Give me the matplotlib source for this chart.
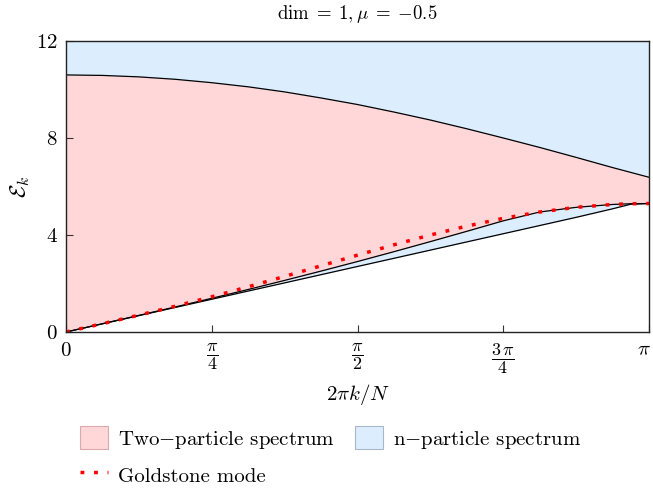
import numpy as np
import matplotlib
matplotlib.use("Agg")
import matplotlib.pyplot as plt
import matplotlib.transforms as mtransforms
from matplotlib.patches import Patch
from matplotlib.lines import Line2D

plt.rcParams['font.family'] = 'serif'
plt.rcParams['font.serif'] = ['cmr10']
plt.rcParams['mathtext.fontset'] = 'cm'
plt.rcParams['axes.formatter.use_mathtext'] = True

# momentum samples, in units of pi
k_over_pi = [0, 1/16, 2/16, 3/16, 4/16, 5/16, 6/16, 7/16, 8/16,
             9/16, 10/16, 11/16, 12/16, 13/16, 14/16, 15/16, 31/32, 1]

goldstone = [0, 0.343, 0.695, 1.064, 1.453, 1.864, 2.292, 2.730, 3.169,
             3.596, 4.000, 4.367, 4.687, 4.948, 5.141, 5.259, 5.289, 5.298]
two_lower = [0, 0.342, 0.686, 1.034, 1.390, 1.754, 2.128, 2.512, 2.906,
             3.312, 3.728, 4.152, 4.584, 4.948, 5.141, 5.259, 5.289, 5.298]
two_upper = [10.60, 10.58, 10.52, 10.42, 10.28, 10.11, 9.90, 9.65, 9.38,
             9.07, 8.74, 8.38, 8.00, 7.61, 7.20, 6.78, 6.58, 6.38]
n_lower = [0, 0.338, 0.675, 1.013, 1.351, 1.689, 2.026, 2.364, 2.702,
           3.039, 3.377, 3.715, 4.052, 4.390, 4.728, 5.080, 5.270, 5.298]
y_top = 12

xtick_vals = [0, 0.25, 0.5, 0.75, 1]
xtick_labels = [r'$0$', r'$\dfrac{\pi}{4}$', r'$\dfrac{\pi}{2}$', r'$\dfrac{3\,\pi}{4}$', r'$\pi$']
ytick_vals = [0, 4, 8, 12]

pink = '#ffd7d9'
blue = '#dcedfd'

k = np.pi * np.array(k_over_pi)

fig = plt.figure(figsize=(6.53, 4.92), dpi=100)
ax = fig.add_axes([0.1011, 0.3252, 0.8928, 0.5915])

ax.fill_between(k, n_lower, y_top, color=blue, lw=0)
ax.fill_between(k, two_lower, two_upper, color=pink, lw=0)
ax.plot(k, n_lower, color='black', lw=0.9)
ax.plot(k, two_lower, color='black', lw=0.9)
ax.plot(k, two_upper, color='black', lw=0.9)
ax.plot(k, goldstone, color='#ff0000', lw=2.5, linestyle=(0, (1.1, 2.8)))

ax.set_xlim(0, np.pi)
ax.set_ylim(0, 12)
ax.set_xticks(np.pi * np.array(xtick_vals))
ax.set_xticklabels(xtick_labels)
ax.set_yticks(ytick_vals)
ax.set_yticklabels([f'${v}$' for v in ytick_vals])
ax.tick_params(direction='in', labelsize=15, length=5, width=0.8, colors='#333333',
               labelcolor='black')
ax.tick_params(axis='x', pad=7, labelsize=13)
ax.tick_params(axis='y', pad=6)
for lbl in ax.get_xticklabels():
    if lbl.get_text() in (r'$0$', r'$\pi$'):
        lbl.set_fontsize(15)
    if lbl.get_text() == r'$\pi$':
        lbl.set_transform(lbl.get_transform() +
                          mtransforms.ScaledTranslation(-5 / 100, 0, fig.dpi_scale_trans))
for s in ax.spines.values():
    s.set_linewidth(1.0)
    s.set_color('#222222')

ax.set_title(r'$\mathrm{dim}\;=\;1,\mu\;=\;{-0.5}$', fontsize=13.5, pad=16)
ax.set_xlabel(r'$2\pi k/N$', fontsize=15, labelpad=4)
ax.set_ylabel(r'$\mathcal{E}_k$', fontsize=16, labelpad=3)

handles = [
    Patch(facecolor=pink, edgecolor='#d9a9ab', lw=0.8, label=r'Two$-$particle spectrum'),
    Line2D([], [], color='#ff0000', lw=2.5, linestyle=(0, (1.1, 2.8)), label='Goldstone mode'),
    Patch(facecolor=blue, edgecolor='#a9b8c8', lw=0.8, label=r'n$-$particle spectrum'),
]
fig.legend(handles=handles, loc='upper left', bbox_to_anchor=(0.1225, 0.134),
           bbox_transform=fig.transFigure, ncol=2, frameon=False, fontsize=15,
           handlelength=1.33, handleheight=1.33, columnspacing=0.96, labelspacing=0.6,
           handletextpad=0.5, borderaxespad=0, borderpad=0)

fig.savefig('out.png', dpi=100)
